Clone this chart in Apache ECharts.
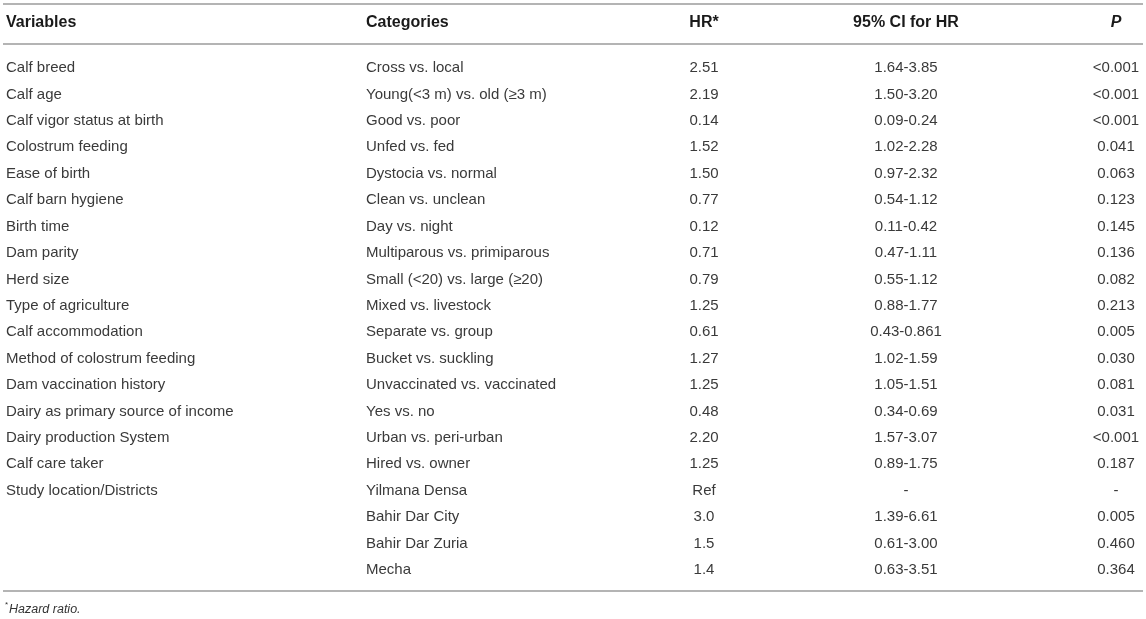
<!DOCTYPE html>
<html>
<head>
<meta charset="utf-8">
<script src="https://cdn.jsdelivr.net/npm/echarts@6/dist/echarts.min.js"></script>
<style>
  html, body { margin: 0; padding: 0; background: #fff; }
  #main { width: 1146px; height: 619px; }
</style>
</head>
<body>
<div id="main"></div>
<script>
var headers = ["Variables", "Categories", "HR*", "95% CI for HR", "P"];

var variables = [
  "Calf breed", "Calf age", "Calf vigor status at birth", "Colostrum feeding",
  "Ease of birth", "Calf barn hygiene", "Birth time", "Dam parity", "Herd size",
  "Type of agriculture", "Calf accommodation", "Method of colostrum feeding",
  "Dam vaccination history", "Dairy as primary source of income",
  "Dairy production System", "Calf care taker", "Study location/Districts",
  "", "", ""
];
var categories = [
  "Cross vs. local", "Young(<3 m) vs. old (≥3 m)", "Good vs. poor", "Unfed vs. fed",
  "Dystocia vs. normal", "Clean vs. unclean", "Day vs. night",
  "Multiparous vs. primiparous", "Small (<20) vs. large (≥20)", "Mixed vs. livestock",
  "Separate vs. group", "Bucket vs. suckling", "Unvaccinated vs. vaccinated",
  "Yes vs. no", "Urban vs. peri-urban", "Hired vs. owner", "Yilmana Densa",
  "Bahir Dar City", "Bahir Dar Zuria", "Mecha"
];
var hrValues = [
  "2.51", "2.19", "0.14", "1.52", "1.50", "0.77", "0.12", "0.71", "0.79", "1.25",
  "0.61", "1.27", "1.25", "0.48", "2.20", "1.25", "Ref", "3.0", "1.5", "1.4"
];
var ciValues = [
  "1.64-3.85", "1.50-3.20", "0.09-0.24", "1.02-2.28", "0.97-2.32", "0.54-1.12",
  "0.11-0.42", "0.47-1.11", "0.55-1.12", "0.88-1.77", "0.43-0.861", "1.02-1.59",
  "1.05-1.51", "0.34-0.69", "1.57-3.07", "0.89-1.75", "-", "1.39-6.61",
  "0.61-3.00", "0.63-3.51"
];
var pValues = [
  "<0.001", "<0.001", "<0.001", "0.041", "0.063", "0.123", "0.145", "0.136",
  "0.082", "0.213", "0.005", "0.030", "0.081", "0.031", "<0.001", "0.187", "-",
  "0.005", "0.460", "0.364"
];

// column layout (pixels)
var colX = [6, 366, 704, 906, 1116];
var colAlign = ["left", "left", "center", "center", "center"];
var bodyFont = '15px "Liberation Sans", Arial, sans-serif';
var lineColor = "#b4b4b4";

var rowIds = variables.map(function (v, i) { return i; });

var myChart = echarts.init(document.getElementById("main"));

var option = {
  animation: false,
  grid: { left: 0, right: 0, top: 54.8, bottom: 35.8 },
  xAxis: { type: "value", min: 0, max: 1146, show: false },
  yAxis: { type: "category", data: rowIds, inverse: true, show: false },
  graphic: [
    { type: "line", shape: { x1: 3, y1: 4, x2: 1143, y2: 4 }, style: { stroke: lineColor, lineWidth: 2 } },
    { type: "line", shape: { x1: 3, y1: 44, x2: 1143, y2: 44 }, style: { stroke: lineColor, lineWidth: 2 } },
    { type: "line", shape: { x1: 3, y1: 591, x2: 1143, y2: 591 }, style: { stroke: lineColor, lineWidth: 2 } }
  ].concat(headers.map(function (h, c) {
    return {
      type: "text",
      style: {
        text: h,
        x: colX[c],
        y: 23,
        align: colAlign[c],
        verticalAlign: "middle",
        font: (c === 4 ? "italic " : "") + 'bold 16px "Liberation Sans", Arial, sans-serif',
        fill: "#1a1a1a"
      }
    };
  })).concat([
    { type: "text", style: { text: "*", x: 5, y: 605, verticalAlign: "middle", font: '8px "Liberation Sans", Arial, sans-serif', fill: "#333" } },
    { type: "text", style: { text: "Hazard ratio.", x: 9, y: 610, verticalAlign: "middle", font: 'italic 12.5px "Liberation Sans", Arial, sans-serif', fill: "#333" } }
  ]),
  series: [
    {
      type: "custom",
      data: rowIds.map(function (i) { return [0, i]; }),
      renderItem: function (params, api) {
        var i = api.value(1);
        var cells = [variables[i], categories[i], hrValues[i], ciValues[i], pValues[i]];
        return {
          type: "group",
          children: cells.map(function (t, c) {
            var pt = api.coord([colX[c], i]);
            return {
              type: "text",
              style: {
                text: t,
                x: pt[0],
                y: pt[1],
                align: colAlign[c],
                verticalAlign: "middle",
                font: bodyFont,
                fill: "#3a3a3a"
              }
            };
          })
        };
      }
    }
  ]
};
myChart.setOption(option);
</script>
</body>
</html>
